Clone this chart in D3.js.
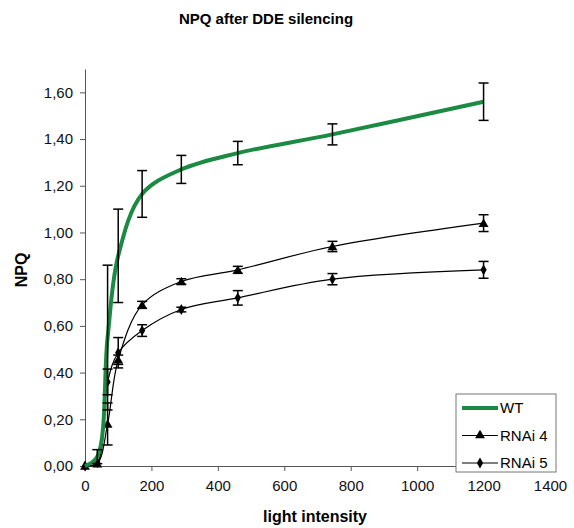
<!DOCTYPE html>
<html>
<head>
<meta charset="utf-8">
<script src="https://cdn.jsdelivr.net/npm/d3@7"></script>
<style>
  body { margin: 0; background: #fff; }
  svg { display: block; font-family: "Liberation Sans", Arial, sans-serif; }
</style>
</head>
<body>
<div id="chart"></div>
<script>
// light intensity steps
const intensity = [0, 37, 68, 100, 172, 290, 460, 745, 1200];

// NPQ means and errors
const wtValues = [0, 0.04, 0.55, 0.90, 1.165, 1.27, 1.34, 1.42, 1.56];
const wtErrors = [0, 0.03, 0.31, 0.20, 0.10, 0.06, 0.05, 0.045, 0.08];
const rnai4Values = [0, 0.01, 0.18, 0.455, 0.69, 0.79, 0.84, 0.94, 1.04];
const rnai4Errors = [0, 0, 0.09, 0.02, 0.015, 0.012, 0.015, 0.022, 0.036];
const rnai5Values = [0, 0.015, 0.36, 0.485, 0.58, 0.67, 0.72, 0.80, 0.84];
const rnai5Errors = [0, 0, 0.055, 0.065, 0.025, 0.01, 0.031, 0.024, 0.036];

const xTicks = [0, 200, 400, 600, 800, 1000, 1200, 1400];
const yTicks = [0, 0.2, 0.4, 0.6, 0.8, 1.0, 1.2, 1.4, 1.6];
const seriesNames = ['WT', 'RNAi 4', 'RNAi 5'];

const width = 574, height = 528;
const green = '#1b8a42';

const svg = d3.select('#chart').append('svg')
  .attr('width', width)
  .attr('height', height);

const x = d3.scaleLinear().domain([0, 1400]).range([85, 550]);
const y = d3.scaleLinear().domain([0, 1.7]).range([466, 69]);

const comma = d3.formatLocale({ decimal: ',', thousands: '.', grouping: [3], currency: ['', ''] }).format('.2f');

// axes
const xAxis = svg.append('g')
  .attr('transform', `translate(0,${y(0)})`)
  .call(d3.axisBottom(x).tickValues(xTicks).tickFormat(d3.format('d')).tickSize(5).tickPadding(9).tickSizeOuter(0));
const yAxis = svg.append('g')
  .attr('transform', `translate(${x(0)},0)`)
  .call(d3.axisLeft(y).tickValues(yTicks).tickFormat(comma).tickSize(5).tickPadding(7).tickSizeOuter(0));

[xAxis, yAxis].forEach(a => {
  a.select('.domain').attr('stroke', '#555');
  a.selectAll('.tick line').attr('stroke', '#555');
  a.selectAll('.tick text').attr('font-size', 15).attr('fill', '#111')
    .attr('font-family', '"Liberation Sans", Arial, sans-serif');
});

const rows = (vals, errs) => intensity.map((d, i) => ({ x: d, y: vals[i], e: errs[i] }));
const series = [
  { name: seriesNames[0], data: rows(wtValues, wtErrors), color: green, width: 4, symbol: null },
  { name: seriesNames[1], data: rows(rnai4Values, rnai4Errors), color: '#000', width: 1.2, symbol: d3.symbolTriangle },
  { name: seriesNames[2], data: rows(rnai5Values, rnai5Errors), color: '#000', width: 1.2, symbol: d3.symbolDiamond }
];

const symSize = s => s === d3.symbolTriangle ? 42 : 34;

const line = d3.line()
  .x(d => x(d.x))
  .y(d => y(d.y))
  .curve(d3.curveCatmullRom.alpha(0.5));

// draw the thin series first, WT on top
[series[2], series[1], series[0]].forEach(s => {
  const g = svg.append('g');
  g.append('path')
    .datum(s.data)
    .attr('fill', 'none')
    .attr('stroke', s.color)
    .attr('stroke-width', s.width)
    .attr('stroke-linejoin', 'round')
    .attr('d', line);

  if (s.symbol) {
    g.selectAll('path.mark')
      .data(s.data)
      .join('path')
      .attr('class', 'mark')
      .attr('transform', d => `translate(${x(d.x)},${y(d.y) + (s.symbol === d3.symbolTriangle ? 1 : 0)})`)
      .attr('d', d3.symbol(s.symbol, symSize(s.symbol)))
      .attr('fill', '#000');
  }
});

// error bars
series.forEach(s => {
  const bars = svg.append('g')
    .attr('stroke', '#000')
    .attr('stroke-width', 1.5)
    .selectAll('g')
    .data(s.data.filter(d => d.e > 0))
    .join('g');
  bars.append('line')
    .attr('x1', d => x(d.x)).attr('x2', d => x(d.x))
    .attr('y1', d => y(d.y - d.e)).attr('y2', d => y(d.y + d.e));
  bars.append('line')
    .attr('x1', d => x(d.x) - 5).attr('x2', d => x(d.x) + 5)
    .attr('y1', d => y(d.y + d.e)).attr('y2', d => y(d.y + d.e));
  bars.append('line')
    .attr('x1', d => x(d.x) - 5).attr('x2', d => x(d.x) + 5)
    .attr('y1', d => y(d.y - d.e)).attr('y2', d => y(d.y - d.e));
});

// titles
svg.append('text')
  .attr('x', 266).attr('y', 24)
  .attr('text-anchor', 'middle')
  .attr('font-size', 15).attr('font-weight', 'bold')
  .text('NPQ after DDE silencing');

svg.append('text')
  .attr('x', 315).attr('y', 522)
  .attr('text-anchor', 'middle')
  .attr('font-size', 16).attr('font-weight', 'bold')
  .text('light intensity');

svg.append('text')
  .attr('transform', 'translate(27,270) rotate(-90)')
  .attr('text-anchor', 'middle')
  .attr('font-size', 16).attr('font-weight', 'bold')
  .text('NPQ');

// legend
const legend = svg.append('g').attr('transform', 'translate(456,394)');
legend.append('rect')
  .attr('width', 100).attr('height', 78)
  .attr('fill', '#fff')
  .attr('stroke', '#777')
  .attr('stroke-width', 1);

const item = legend.selectAll('g.item')
  .data(series)
  .join('g')
  .attr('class', 'item')
  .attr('transform', (d, i) => `translate(0,${14 + i * 27.5})`);

item.append('line')
  .attr('x1', 6).attr('x2', 42)
  .attr('stroke', d => d.color)
  .attr('stroke-width', d => d.symbol ? 1.2 : 4);

item.filter(d => d.symbol)
  .append('path')
  .attr('transform', 'translate(24,0)')
  .attr('d', d => d3.symbol(d.symbol, symSize(d.symbol))())
  .attr('fill', '#000');

item.append('text')
  .attr('x', 44).attr('y', 5)
  .attr('font-size', 15)
  .text(d => d.name);
</script>
</body>
</html>
